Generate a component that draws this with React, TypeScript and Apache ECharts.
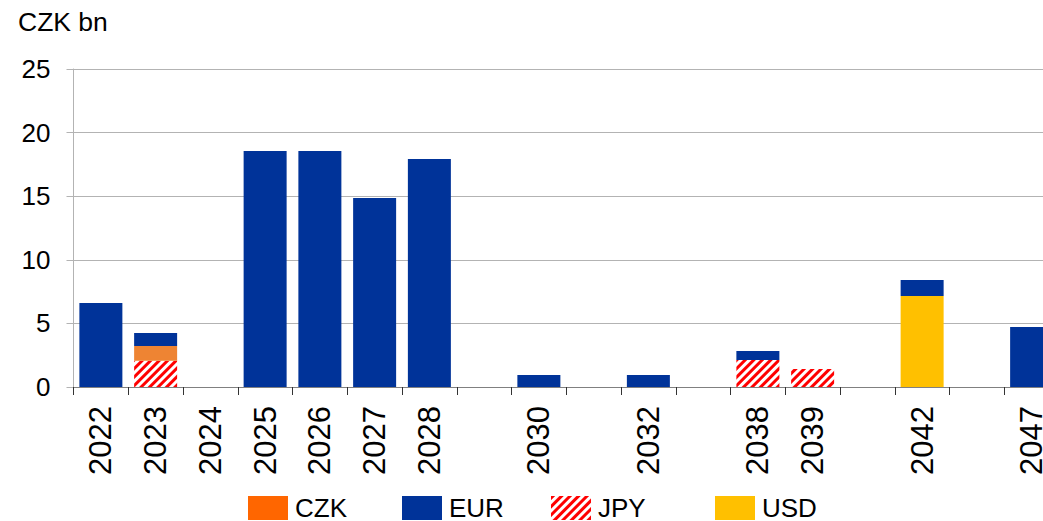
import React, { useEffect, useRef } from "react";
import * as echarts from "echarts";

const categories = ["2022", "2023", "2024", "2025", "2026", "2027", "2028", "", "2030", "", "2032", "", "2038", "2039", "", "2042", "", "2047"];
const jpy = [0, 2.07, 0, 0, 0, 0, 0, 0, 0, 0, 0, 0, 2.12, 1.41, 0, 0, 0, 0];
const usd = [0, 0, 0, 0, 0, 0, 0, 0, 0, 0, 0, 0, 0, 0, 0, 7.15, 0, 0];
const czk = [0, 1.15, 0, 0, 0, 0, 0, 0, 0, 0, 0, 0, 0, 0, 0, 0, 0, 0];
const eur = [6.6, 1.03, 0, 18.55, 18.55, 14.86, 17.92, 0, 0.94, 0, 0.94, 0, 0.71, 0, 0, 1.26, 0, 4.72];
const yTicks = { min: 0, max: 25, interval: 5 };
const unitLabel = "CZK bn";

const FONT = "'Liberation Sans', Arial, sans-serif";

export default function App() {
  const ref = useRef<HTMLDivElement>(null);
  useEffect(() => {
    document.body.style.margin = "0";
    const chart = echarts.init(ref.current!, null, { renderer: "svg" });
    const hatch = {
      symbol: "rect",
      symbolSize: 1,
      dashArrayX: [1, 0],
      dashArrayY: [3, 3],
      rotation: -Math.PI / 4,
      color: "#ff0000",
      backgroundColor: "#ffffff",
    };
    const legendCommon = {
      top: 495,
      itemWidth: 40,
      itemHeight: 24,
      itemGap: 12,
      textStyle: { fontSize: 26, color: "#000", fontFamily: FONT, padding: [10, 0, 0, 2] },
      icon: "rect",
      selectedMode: false,
      padding: 0,
    };
    const barCommon = { type: "bar", stack: "total", barWidth: 43 };
    chart.setOption({
      animation: false,
      textStyle: { fontFamily: FONT },
      graphic: [
        { type: "text", left: 18, top: 8, style: { text: unitLabel, fontSize: 26.5, fill: "#000", fontFamily: FONT } },
      ],
      legend: [
        { ...legendCommon, left: 248, data: ["CZK"] },
        { ...legendCommon, left: 402, data: ["EUR"] },
        { ...legendCommon, left: 551, data: ["JPY"] },
        { ...legendCommon, left: 715, data: ["USD"] },
      ],
      grid: { left: 73.5, top: 69, width: 985.5, height: 318, containLabel: false },
      xAxis: {
        type: "category",
        data: categories,
        axisLine: { lineStyle: { color: "#808080", width: 1 } },
        axisTick: { show: true, interval: 0, length: 8, lineStyle: { color: "#333" } },
        axisLabel: { interval: 0, rotate: 90, fontSize: 31, color: "#000", margin: 19, fontFamily: FONT },
      },
      yAxis: {
        type: "value",
        min: yTicks.min,
        max: yTicks.max,
        interval: yTicks.interval,
        axisLine: { show: true, lineStyle: { color: "#b3b3b3" } },
        axisTick: { show: true, length: 7, lineStyle: { color: "#b3b3b3" } },
        splitLine: { lineStyle: { color: "#b3b3b3" } },
        axisLabel: { fontSize: 26, color: "#000", margin: 23, fontFamily: FONT },
      },
      series: [
        { ...barCommon, name: "JPY", data: jpy, itemStyle: { color: "#ffffff", decal: hatch } },
        { ...barCommon, name: "USD", data: usd, itemStyle: { color: "#ffc000" } },
        {
          ...barCommon,
          name: "CZK",
          data: czk.map((v) => ({ value: v, itemStyle: { color: "#ee8433" } })),
          itemStyle: { color: "#ff6600" },
        },
        { ...barCommon, name: "EUR", data: eur, itemStyle: { color: "#003399" } },
      ],
    });
    return () => chart.dispose();
  }, []);
  return (
    <div style={{ width: 1043, height: 521, overflow: "hidden", position: "relative" }}>
      <div ref={ref} style={{ width: 1080, height: 521, position: "absolute", left: 0, top: 0 }} />
    </div>
  );
}
